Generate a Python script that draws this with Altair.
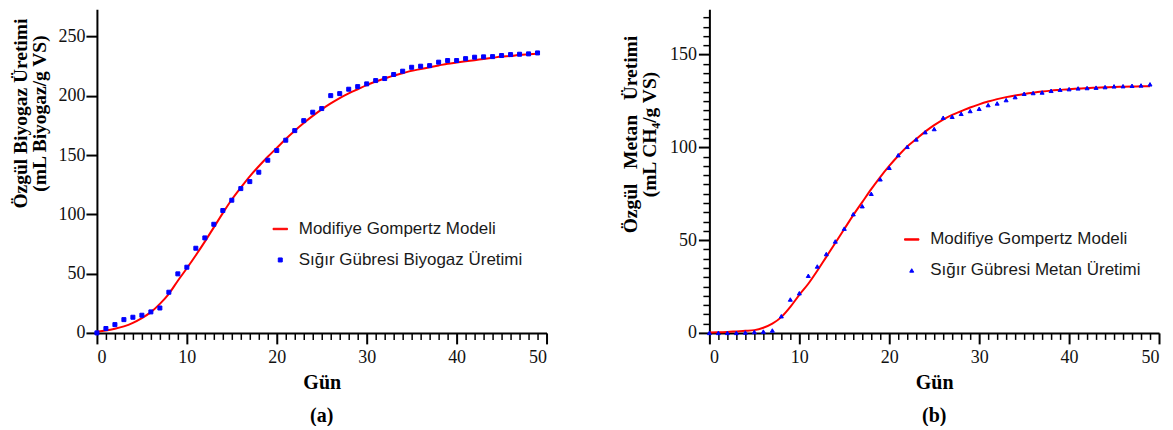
import altair as alt
import pandas as pd

# ---------------- data ----------------
days = list(range(50))

bio_obs = [0, 3.7, 7, 11.2, 13.2, 14.9, 17.7, 21, 34.3, 49.8,
           55.4, 71.4, 80.1, 91.6, 103.2, 111.9, 121.7, 127.6, 135.5, 145.6,
           153.8, 162.5, 170.6, 179, 186.1, 189.2, 200.1, 201.8, 205.5, 207.7,
           210, 212.8, 214.5, 217.9, 220.7, 224, 224.9, 225.4, 228.3, 229.7,
           229.7, 231.3, 232.5, 232.8, 233, 233.9, 234.7, 235, 235.3, 236.1]

bio_fit = [1, 2, 3.5, 5.5, 8.5, 12.5, 17.5, 24.5, 33, 44,
           54.5, 65.5, 77, 89, 101, 112.5, 122.5, 132, 140.5, 148.5,
           156, 163.5, 170.5, 177, 183, 188.5, 193.5, 198, 202, 205.5,
           209, 212, 214.5, 217, 219, 221, 222.5, 224, 225.5, 227,
           228, 229, 230, 231, 232, 233, 233.5, 234.5, 235, 235.5]

ch4_obs = [0, 0, 0, 0, 0.2, 0.5, 0.7, 1.3, 9, 18,
           21.4, 30.8, 35.8, 42.5, 49.3, 56.2, 64, 68.3, 75, 82.8,
           89, 95.8, 100.3, 104.3, 108.2, 109.9, 116, 116.5, 118.1, 119.6,
           120.8, 122.8, 123.7, 125.5, 127.1, 128.9, 129.3, 129.6, 130.5, 131.1,
           131.4, 131.8, 132, 132.2, 132.5, 132.9, 133, 133.2, 133.4, 134]

ch4_fit = [0.2, 0.3, 0.5, 0.8, 1.1, 1.5, 2.8, 5, 8.5, 14,
           20.5, 26.5, 33.5, 41, 48.5, 56, 63.5, 70.5, 77.5, 84,
           90, 95.5, 100.5, 104.5, 108.5, 112, 115, 117.5, 119.5, 121.5,
           123.2, 124.7, 126, 127.1, 128, 128.8, 129.5, 130.1, 130.6, 131,
           131.4, 131.7, 132, 132.2, 132.4, 132.6, 132.7, 132.8, 132.9, 133]

x_ticks = list(range(0, 51))            # every day; labelled every 10
bio_y_ticks = [0, 50, 100, 150, 200, 250]
ch4_y_ticks = list(range(0, 175, 5))    # every 5; labelled every 50

MODEL = "Modifiye Gompertz Modeli"
BIO = "Sığır Gübresi Biyogaz Üretimi"
CH4 = "Sığır Gübresi Metan Üretimi"
bio_title = ["Özgül Biyogaz Üretimi", "(mL Biyogaz/g VS)"]
ch4_title = ["Özgül\u00a0\u00a0\u00a0Metan\u00a0\u00a0\u00a0Üretimi", "(mL CH₄/g VS)"]

# ---------------- style ----------------
SERIF = "Liberation Serif"
SANS = "Liberation Sans"
W, H = 450, 324
LINE_PATH = "M-3.6,-0.35H3.6V0.35H-3.6Z"
RED, BLUE = "#ff0000", "#0000ff"


def cond(test, major, minor):
    return {"condition": {"test": test, "value": major}, "value": minor}


def panel(obs, fit, obs_name, marker, y_max, y_ticks, y_step, y_title,
          title_y, title_pad, label_pad, label, leg_x, leg_y):
    df_fit = pd.DataFrame({"Gün": days, "v": fit})
    df_obs = pd.DataFrame({"Gün": days, "v": obs, "seri": obs_name})
    xs = alt.Scale(domain=[0, 50], nice=False)
    ys = alt.Scale(domain=[0, y_max], nice=False)

    x_test = "datum.value % 10 === 0"
    x_axis = alt.Axis(values=x_ticks, title="Gün", labelOverlap=False,
                      labelExpr=f"{x_test} ? datum.label : ''",
                      tickSize=cond(x_test, 11, 6.5),
                      tickWidth=cond(x_test, 2, 1.5),
                      labelPadding=5, titlePadding=6, titleFontSize=20)
    y_test = f"datum.value % {y_step} === 0"
    y_axis = alt.Axis(values=y_ticks, title=y_title, labelOverlap=False,
                      labelExpr=f"{y_test} ? datum.label : ''",
                      tickSize=cond(y_test, 11, 6.5),
                      tickWidth=cond(y_test, 2, 1.5),
                      labelPadding=label_pad, titlePadding=title_pad,
                      titleY=title_y, titleFontSize=19.5, titleLineHeight=19)

    line = alt.Chart(df_fit).mark_line(
        color=RED, strokeWidth=2, interpolate="monotone"
    ).encode(
        x=alt.X("Gün:Q", scale=xs, axis=x_axis),
        y=alt.Y("v:Q", scale=ys, axis=y_axis),
    )

    dom = [MODEL, obs_name]
    leg = alt.Legend(title=None, orient="none", legendX=leg_x, legendY=leg_y)
    pts = alt.Chart(df_obs).mark_point(
        filled=True, size=16, strokeWidth=1, opacity=1
    ).encode(
        x=alt.X("Gün:Q", scale=xs, axis=x_axis),
        y=alt.Y("v:Q", scale=ys, axis=y_axis),
        fill=alt.Fill("seri:N", scale=alt.Scale(domain=dom, range=[RED, BLUE]), legend=leg),
        stroke=alt.Stroke("seri:N", scale=alt.Scale(domain=dom, range=[RED, BLUE]), legend=leg),
        shape=alt.Shape("seri:N", scale=alt.Scale(domain=dom, range=[LINE_PATH, marker]), legend=leg),
    )

    return alt.layer(line, pts).properties(
        width=W, height=H,
        title=alt.TitleParams(label, orient="bottom", font=SERIF, fontSize=20,
                              fontWeight="bold", color="black", offset=13),
    )


left = panel(bio_obs, bio_fit, BIO, "square", 273, bio_y_ticks, 50, bio_title,
             104, 8, 1, "(a)", 175, 211.5)
right = panel(ch4_obs, ch4_fit, CH4, "triangle-up", 174.5, ch4_y_ticks, 50, ch4_title,
              125, 10, 2, "(b)", 194, 222)

chart = alt.hconcat(left, right, spacing=73).resolve_scale(
    fill="independent", stroke="independent", shape="independent",
    x="independent", y="independent"
).properties(
    padding={"left": 3, "top": 0, "right": 5, "bottom": 0}
).configure_view(
    strokeWidth=0
).configure_axis(
    domainColor="black", domainWidth=2, tickColor="black",
    grid=False,
    labelFont=SERIF, labelFontSize=18, labelColor="#111111",
    titleFont=SERIF, titleFontWeight="bold", titleColor="black",
).configure_legend(
    labelFont=SANS, labelFontSize=17, labelColor="#1a1a1a", labelLimit=500,
    rowPadding=13, padding=0, symbolSize=16, labelOffset=10,
    symbolStrokeWidth=1,
)

chart.save("out.html", embed_options={"renderer": "svg", "actions": False})
